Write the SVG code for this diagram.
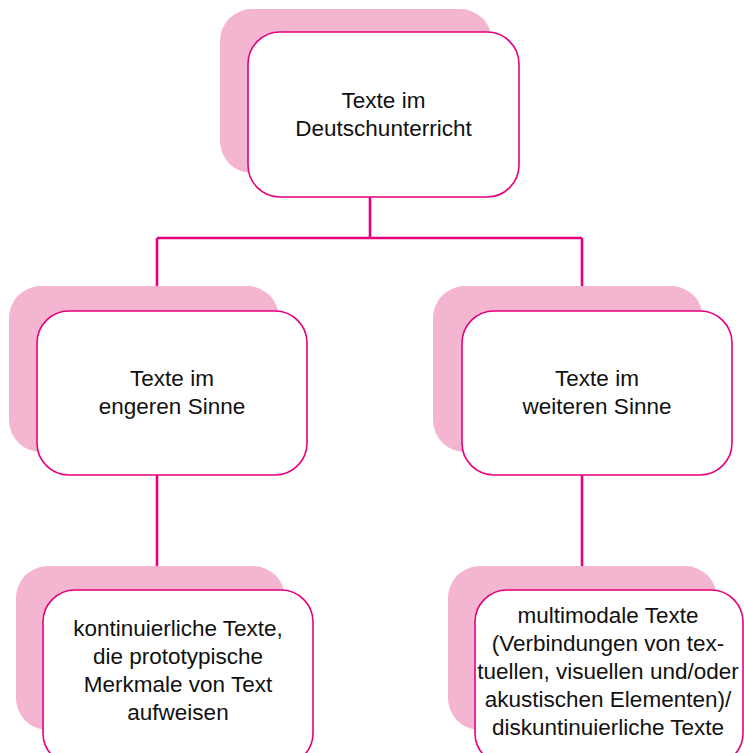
<svg xmlns="http://www.w3.org/2000/svg" width="744" height="753" viewBox="0 0 744 753">
  <style>
    .back { fill: #f3b5cf; stroke: none; }
    .front { fill: #ffffff; stroke: #e6007e; stroke-width: 1.6; }
    .link { fill: none; stroke: #e6007e; stroke-width: 2.6; }
    .label { font-family: "Liberation Sans", Arial, sans-serif; font-size: 22.5px; fill: #111111; text-anchor: middle; }
  </style>
  <rect width="744" height="753" fill="#ffffff"/>

  <!-- connectors -->
  <g id="connectors">
    <path class="link" d="M370,197 V238 M157,238 H582 M157,238 V311 M582,238 V311"/>
    <path class="link" d="M157,475 V566"/>
    <path class="link" d="M582,475 V566"/>
  </g>

  <!-- root -->
  <g id="node-root">
    <rect class="back" x="220" y="9" width="272" height="164" rx="32"/>
    <rect class="front" x="248" y="32" width="271" height="165" rx="32"/>
    <text class="label" x="383.5" y="108">Texte im</text>
    <text class="label" x="383.5" y="136">Deutschunterricht</text>
  </g>

  <!-- narrow sense -->
  <g id="node-narrow">
    <rect class="back" x="9" y="286" width="270" height="166" rx="32"/>
    <rect class="front" x="37" y="311" width="270" height="164" rx="32"/>
    <text class="label" x="172" y="386">Texte im</text>
    <text class="label" x="172" y="414">engeren Sinne</text>
  </g>

  <!-- wide sense -->
  <g id="node-wide">
    <rect class="back" x="433" y="286" width="270" height="166" rx="32"/>
    <rect class="front" x="462" y="311" width="270" height="164" rx="32"/>
    <text class="label" x="597" y="386">Texte im</text>
    <text class="label" x="597" y="414">weiteren Sinne</text>
  </g>

  <!-- continuous texts -->
  <g id="node-continuous">
    <rect class="back" x="16" y="566" width="269" height="164" rx="32"/>
    <rect class="front" x="43" y="590" width="270" height="175" rx="32"/>
    <text class="label" x="178" y="636">kontinuierliche Texte,</text>
    <text class="label" x="178" y="664">die prototypische</text>
    <text class="label" x="178" y="692">Merkmale von Text</text>
    <text class="label" x="178" y="720">aufweisen</text>
  </g>

  <!-- multimodal texts -->
  <g id="node-multimodal">
    <rect class="back" x="448" y="566" width="269" height="164" rx="32"/>
    <rect class="front" x="475" y="590" width="268" height="175" rx="32"/>
    <text class="label" x="608" y="623">multimodale Texte</text>
    <text class="label" x="608" y="651">(Verbindungen von tex-</text>
    <text class="label" x="608" y="679">tuellen, visuellen und/oder</text>
    <text class="label" x="608" y="707">akustischen Elementen)/</text>
    <text class="label" x="608" y="735">diskuntinuierliche Texte</text>
  </g>
</svg>
